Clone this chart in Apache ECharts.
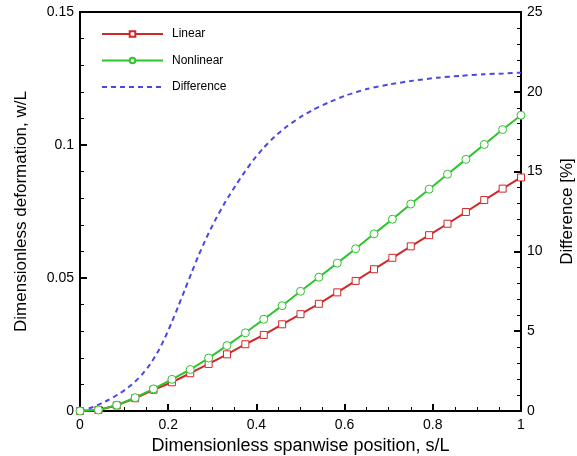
<!DOCTYPE html>
<html>
<head>
<meta charset="utf-8">
<script src="https://cdn.jsdelivr.net/npm/echarts@6/dist/echarts.min.js"></script>
<style>
  html, body { margin: 0; padding: 0; background: #fff; }
  #chart { width: 577px; height: 456px; }
</style>
</head>
<body>
<div id="chart"></div>
<script>
// spanwise stations s/L (k/24)
var stations = [];
for (var k = 0; k <= 24; k++) stations.push(k / 24);

// w/L
var linearVals = [0, 0.0004, 0.0021, 0.0048, 0.0080, 0.0108, 0.0142, 0.0177, 0.0213, 0.0251,
  0.0286, 0.0326, 0.0364, 0.0403, 0.0446, 0.0489, 0.0533, 0.0576, 0.0619, 0.0661,
  0.0704, 0.0748, 0.0793, 0.0836, 0.0878];
var nonlinearVals = [0, 0.0004, 0.0022, 0.0050, 0.0083, 0.0119, 0.0156, 0.0199, 0.0246, 0.0294,
  0.0345, 0.0396, 0.0450, 0.0503, 0.0556, 0.0610, 0.0666, 0.0721, 0.0778, 0.0834,
  0.0890, 0.0946, 0.1002, 0.1058, 0.1112];

// difference [%] curve
var diffS = [0, 0.03, 0.064, 0.091, 0.117, 0.140, 0.159, 0.178, 0.193, 0.208, 0.223, 0.238,
  0.253, 0.268, 0.287, 0.306, 0.325, 0.340, 0.355, 0.374, 0.393, 0.416, 0.442, 0.469,
  0.499, 0.529, 0.567, 0.605, 0.650, 0.703, 0.756, 0.809, 0.862, 0.915, 0.960, 1.0];
var diffVals = [0, 0.25, 0.69, 1.12, 1.64, 2.26, 2.93, 3.78, 4.61, 5.55, 6.57, 7.62,
  8.67, 9.69, 10.87, 11.93, 12.88, 13.57, 14.22, 15.0, 15.72, 16.48, 17.21, 17.83,
  18.4, 18.88, 19.37, 19.79, 20.17, 20.47, 20.7, 20.88, 21.0, 21.1, 21.15, 21.2];

function pairs(xs, ys) {
  return xs.map(function (x, i) { return [x, ys[i]]; });
}

var chart = echarts.init(document.getElementById("chart"));
var font = "Arial, 'Liberation Sans', sans-serif";

var axisCommon = {
  axisLine: { show: true, lineStyle: { color: "#000", width: 2 } },
  axisTick: { show: true, inside: true, length: 7, lineStyle: { color: "#000", width: 2 } },
  minorTick: { show: true, length: 4, lineStyle: { color: "#000", width: 1 } },
  axisLabel: { color: "#000", fontSize: 14, fontFamily: font, margin: 6 },
  splitLine: { show: false },
  nameTextStyle: { color: "#000", fontSize: 17, fontFamily: font },
};

var option = {
  animation: false,
  backgroundColor: "#fff",
  grid: {
    left: 80, right: 56, top: 12, bottom: 45,
    outerBoundsMode: "none",
    containLabel: false,
    show: true, borderColor: "#000", borderWidth: 2,
  },
  legend: {
    orient: "vertical",
    left: 96,
    top: 23,
    itemWidth: 61,
    itemHeight: 7,
    itemGap: 14.5,
    textStyle: { color: "#000", fontSize: 12, fontFamily: font, padding: [0, 0, 0, 4] },
    data: [
      "Linear",
      "Nonlinear",
      { name: "Difference", itemStyle: { opacity: 0 } },
    ],
  },
  xAxis: Object.assign({}, axisCommon, {
    type: "value",
    min: 0, max: 1, interval: 0.2,
    minorTick: Object.assign({}, axisCommon.minorTick, { splitNumber: 4 }),
    name: "Dimensionless spanwise position, s/L",
    nameLocation: "middle",
    nameGap: 21,
    nameTextStyle: Object.assign({}, axisCommon.nameTextStyle, { fontSize: 18 }),
    axisLabel: Object.assign({}, axisCommon.axisLabel, { margin: 7 }),
  }),
  yAxis: [
    Object.assign({}, axisCommon, {
      type: "value",
      min: 0, max: 0.15, interval: 0.05,
      minorTick: Object.assign({}, axisCommon.minorTick, { splitNumber: 5 }),
      name: "Dimensionless deformation, w/L",
      nameLocation: "middle",
      nameGap: 50,
    }),
    Object.assign({}, axisCommon, {
      type: "value",
      position: "right",
      min: 0, max: 25, interval: 5,
      minorTick: Object.assign({}, axisCommon.minorTick, { splitNumber: 5 }),
      name: "Difference [%]",
      nameLocation: "middle",
      nameGap: 38,
      nameRotate: 90,
    }),
  ],
  series: [
    {
      name: "Linear",
      type: "line",
      data: pairs(stations, linearVals),
      symbol: "rect",
      symbolSize: 7,
      showAllSymbol: true,
      itemStyle: { color: "#fff", borderColor: "#d02828", borderWidth: 1 },
      lineStyle: { color: "#d02828", width: 2 },
      z: 3,
    },
    {
      name: "Nonlinear",
      type: "line",
      data: pairs(stations, nonlinearVals),
      symbol: "circle",
      symbolSize: 8,
      showAllSymbol: true,
      itemStyle: { color: "#fff", borderColor: "#2ec42e", borderWidth: 1 },
      lineStyle: { color: "#2ec42e", width: 2 },
      z: 4,
    },
    {
      name: "Difference",
      type: "line",
      yAxisIndex: 1,
      data: pairs(diffS, diffVals),
      smooth: 0.2,
      symbol: "none",
      itemStyle: { color: "#4848e6" },
      lineStyle: { color: "#4848e6", width: 2, type: [5, 4] },
      z: 2,
    },
  ],
};

chart.setOption(option);
</script>
</body>
</html>
